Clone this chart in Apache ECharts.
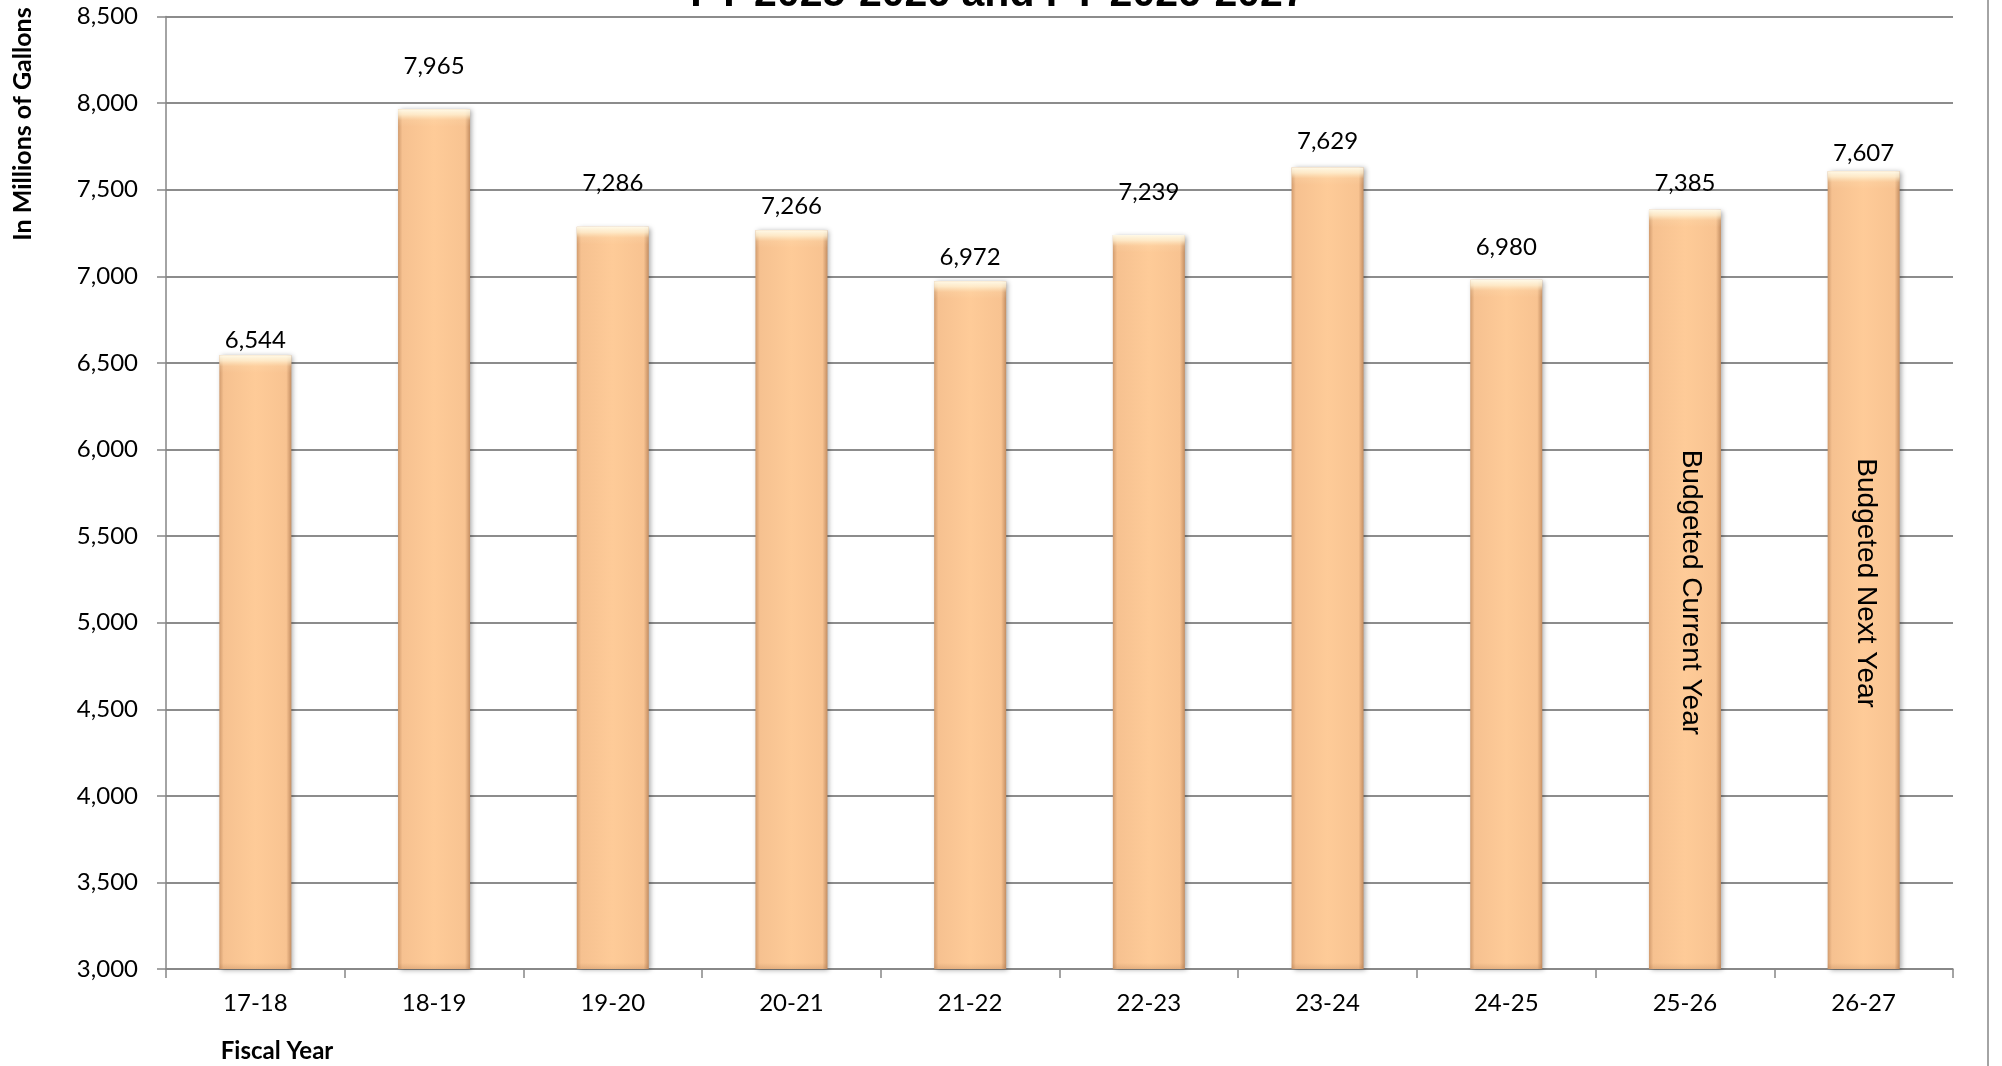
<!DOCTYPE html>
<html>
<head>
<meta charset="utf-8">
<title>Water Sales FY 2025-2026 and FY 2026-2027</title>
<script src="https://cdn.jsdelivr.net/npm/echarts@6/dist/echarts.min.js"></script>
<style>
  html, body { margin: 0; padding: 0; background: #ffffff; }
  #chart { width: 2002px; height: 1066px; }
</style>
</head>
<body>
<div id="chart"></div>
<script>
// Fiscal years and sales volume (millions of gallons)
const fiscalYears = ['17-18', '18-19', '19-20', '20-21', '21-22', '22-23', '23-24', '24-25', '25-26', '26-27'];
const gallons = [6544, 7965, 7286, 7266, 6972, 7239, 7629, 6980, 7385, 7607];
const barNotes = ['', '', '', '', '', '', '', '', 'Budgeted Current Year', 'Budgeted Next Year'];
const yTicks = { min: 3000, max: 8500, step: 500 };

const titleText = 'FY 2025-2026 and FY 2026-2027';
const yAxisTitle = 'In Millions of Gallons';
const xAxisTitle = 'Fiscal Year';

// distance between each value label and its bar top
const labelGap = [3, 31, 32, 12, 12, 31, 14, 21, 14, 6];
// shift of the rotated note text, in the label's own (rotated) frame
const noteShift = [[0, 0], [0, 0], [0, 0], [0, 0], [0, 0], [0, 0], [0, 0], [0, 0], [3, -6], [13, -2]];

const chart = echarts.init(document.getElementById('chart'), null, { renderer: 'canvas' });

const barFill = new echarts.graphic.LinearGradient(0, 0, 1, 0, [
  { offset: 0, color: '#D29C6E' },
  { offset: 0.06, color: '#F6C190' },
  { offset: 0.5, color: '#FECB98' },
  { offset: 0.93, color: '#F8C391' },
  { offset: 1, color: '#C48E62' }
]);

const labelFont = 'Lato, "Open Sans", sans-serif';

chart.setOption({
  animation: false,
  backgroundColor: '#ffffff',
  grid: { left: 166, right: 49, top: 16.6, bottom: 97, containLabel: false },
  xAxis: {
    type: 'category',
    data: fiscalYears,
    axisLine: { lineStyle: { color: '#868686', width: 1.5 } },
    axisTick: { show: true, length: 9, lineStyle: { color: '#868686', width: 1.5 } },
    axisLabel: { color: '#000', fontFamily: labelFont, fontSize: 24, margin: 22 },
    splitLine: { show: false }
  },
  yAxis: {
    type: 'value',
    min: yTicks.min,
    max: yTicks.max,
    interval: yTicks.step,
    axisLine: { show: true, lineStyle: { color: '#868686', width: 1.5 } },
    axisTick: { show: true, length: 9, lineStyle: { color: '#868686', width: 1.5 } },
    axisLabel: {
      color: '#000', fontFamily: labelFont, fontSize: 24, margin: 28,
      formatter: v => v.toLocaleString('en-US')
    },
    splitLine: { show: true, lineStyle: { color: '#8C8C8C', width: 2 } }
  },
  series: [
    {
      type: 'bar',
      barWidth: 72,
      data: gallons.map((v, i) => ({
        value: v,
        label: { distance: labelGap[i] }
      })),
      itemStyle: {
        color: barFill,
        shadowColor: 'rgba(0,0,0,0.35)',
        shadowBlur: 5,
        shadowOffsetX: 2,
        shadowOffsetY: 1
      },
      label: {
        show: true,
        position: 'top',
        color: '#000',
        fontFamily: labelFont,
        fontSize: 24,
        formatter: p => p.value.toLocaleString('en-US')
      },
      z: 2
    },
    {
      // bevel sheen and note text laid over the bars
      type: 'bar',
      barWidth: 72,
      barGap: '-100%',
      silent: true,
      data: gallons.map((v, i) => ({
        value: v,
        label: {
          show: barNotes[i] !== '',
          offset: noteShift[i]
        }
      })),
      itemStyle: { color: 'rgba(0,0,0,0)' },
      label: {
        position: 'inside',
        rotate: -90,
        color: '#000',
        fontFamily: '"Liberation Sans", Arial, sans-serif',
        fontSize: 28,
        formatter: p => barNotes[p.dataIndex]
      },
      z: 3
    }
  ],
  graphic: [
    {
      type: 'text',
      x: 998, y: -5,
      style: {
        text: titleText,
        fill: '#000',
        font: 'bold 41px "Liberation Sans", Arial, sans-serif',
        align: 'center',
        verticalAlign: 'middle'
      }
    },
    {
      type: 'text',
      x: 23, y: 124,
      rotation: Math.PI / 2,
      style: {
        text: yAxisTitle,
        fill: '#000',
        font: 'bold 25px Lato, "Open Sans", sans-serif',
        align: 'center',
        verticalAlign: 'middle'
      }
    },
    {
      type: 'text',
      x: 277, y: 1051,
      style: {
        text: xAxisTitle,
        fill: '#000',
        font: 'bold 24px Lato, "Open Sans", sans-serif',
        align: 'center',
        verticalAlign: 'middle'
      }
    },
    {
      type: 'line',
      shape: { x1: 1988, y1: 0, x2: 1988, y2: 1066 },
      style: { stroke: '#868686', lineWidth: 1.5 }
    }
  ]
});

// Bevel: a light band along each bar's top and a faint shade at its foot,
// sized in pixels from the bar height the value axis gives.
const basePx = chart.convertToPixel({ yAxisIndex: 0 }, yTicks.min);
const sheen = gallons.map(v => {
  const h = basePx - chart.convertToPixel({ yAxisIndex: 0 }, v);
  const top = 11 / h, foot = 6 / h;
  return {
    color: new echarts.graphic.LinearGradient(0, 0, 0, 1, [
      { offset: 0, color: 'rgba(255,252,236,0.95)' },
      { offset: top * 0.5, color: 'rgba(255,244,216,0.75)' },
      { offset: top, color: 'rgba(255,236,200,0.15)' },
      { offset: top * 1.6, color: 'rgba(255,236,200,0)' },
      { offset: 1 - foot, color: 'rgba(150,95,55,0)' },
      { offset: 1, color: 'rgba(150,95,55,0.22)' }
    ])
  };
});
chart.setOption({
  series: [{}, {
    data: gallons.map((v, i) => ({
      value: v,
      itemStyle: sheen[i],
      label: { show: barNotes[i] !== '', offset: noteShift[i] }
    }))
  }]
});
</script>
</body>
</html>
